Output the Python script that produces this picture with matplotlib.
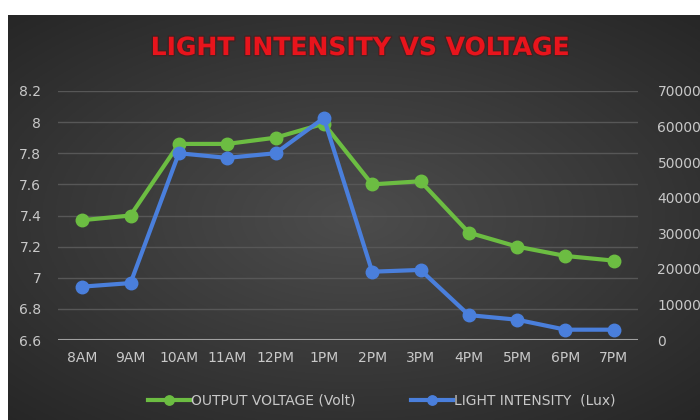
import matplotlib.pyplot as plt
import matplotlib.patheffects as pe
import numpy as np

hours = ['8AM', '9AM', '10AM', '11AM', '12PM', '1PM', '2PM', '3PM', '4PM', '5PM', '6PM', '7PM']
voltage = [7.37, 7.40, 7.86, 7.86, 7.90, 7.99, 7.60, 7.62, 7.29, 7.20, 7.14, 7.11]
lux = [15000, 16000, 52500, 51200, 52500, 62400, 19200, 19700, 7000, 5700, 2900, 2900]

green = '#6cbd42'
blue = '#4a7fdc'
txt = '#c8c8c8'

fig = plt.figure(figsize=(7, 4.2), dpi=100)
fig.patch.set_facecolor('white')

# dark panel with a soft radial highlight
bg = fig.add_axes([8 / 700, 0, 692 / 700, 405 / 420])
yy, xx = np.mgrid[-1:1:200j, -1:1:300j]
r = np.clip(np.sqrt((xx * 0.85) ** 2 + (yy * 0.9) ** 2), 0, 1.3)
g = 0.30 - 0.12 * r
bg.imshow(np.dstack([g, g, g]), aspect='auto', extent=[0, 1, 0, 1])
bg.axis('off')

ax = fig.add_axes([58 / 700, 1 - 340 / 420, 580 / 700, 249 / 420])
ax.patch.set_alpha(0)
x = np.arange(len(hours))
ax.plot(x, voltage, color=green, lw=3, marker='o', ms=9, label='OUTPUT VOLTAGE (Volt)', zorder=3)
ax.set_ylim(6.6, 8.2)
ax.set_yticks(np.arange(6.6, 8.21, 0.2))
ax.set_yticklabels(['6.6', '6.8', '7', '7.2', '7.4', '7.6', '7.8', '8', '8.2'])
ax.set_xlim(-0.5, len(hours) - 0.5)
ax.set_xticks(x)
ax.set_xticklabels(hours)
ax.grid(axis='y', color='#575757', lw=1)
ax.set_axisbelow(True)
for s in ax.spines.values():
    s.set_visible(False)
ax.axhline(6.6, color='#a0a0a0', lw=1.5, zorder=2)
ax.tick_params(colors=txt, labelsize=10, length=0, pad=12)
ax.tick_params(axis='x', pad=8)

ax2 = ax.twinx()
ax2.plot(x, lux, color=blue, lw=3, marker='o', ms=9, label='LIGHT INTENSITY  (Lux)', zorder=4)
ax2.set_ylim(0, 70000)
ax2.set_yticks(range(0, 70001, 10000))
for s in ax2.spines.values():
    s.set_visible(False)
ax2.tick_params(colors=txt, labelsize=10, length=0, pad=14)

h1, l1 = ax.get_legend_handles_labels()
h2, l2 = ax2.get_legend_handles_labels()
leg = fig.legend(h1 + h2, l1 + l2, loc='center', bbox_to_anchor=(382 / 700, 1 - 401 / 420), ncol=2,
                 frameon=False, fontsize=10, handlelength=3, handletextpad=0.1, columnspacing=4,
                 markerscale=0.75)
for t in leg.get_texts():
    t.set_color(txt)

fig.text(360 / 700, 1 - 48 / 420, 'LIGHT INTENSITY VS VOLTAGE', color='#e8141c', fontsize=18,
         fontweight='bold', ha='center', va='center',
         path_effects=[pe.withStroke(linewidth=2, foreground='#5a0808', alpha=0.35)])

fig.savefig('out.png', dpi=100)
